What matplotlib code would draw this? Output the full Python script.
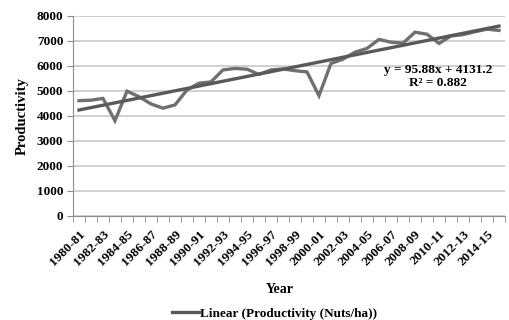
import matplotlib.pyplot as plt
import numpy as np

plt.rcParams['font.family'] = ['Liberation Serif', 'DejaVu Serif']
plt.rcParams['font.weight'] = 'bold'

years = ['%d-%02d' % (y, (y + 1) % 100) for y in range(1980, 2016)]

productivity = [4600, 4620, 4690, 3800, 4980, 4760, 4470, 4300, 4430, 5030,
                5300, 5350, 5830, 5890, 5860, 5650, 5830, 5870, 5800, 5750,
                4800, 6090, 6260, 6540, 6690, 7050, 6940, 6900, 7340, 7260,
                6890, 7190, 7240, 7360, 7460, 7410]

slope = 95.88
intercept = 4131.2
r2 = 0.882

x = np.arange(1, len(years) + 1)
trend = slope * x + intercept

fig = plt.figure(figsize=(5.09, 3.2), dpi=100)
ax = fig.add_axes([0.1434, 0.326, 0.8487, 0.625])

ax.plot(x, productivity, color='#707070', lw=2.4, solid_joinstyle='miter')
tl, = ax.plot(x, trend, color='#595959', lw=2.4)

ax.set_xlim(0.5, len(years) + 0.5)
ax.set_ylim(0, 8000)
ax.set_yticks(range(0, 8001, 1000))
ax.yaxis.grid(True, color='#c8c8c8', lw=1.2)
ax.set_axisbelow(True)

ax.set_xticks(x[::2])
ax.set_xticklabels(years[::2], rotation=45, ha='right', va='top',
                   rotation_mode='anchor', fontsize=9.5)
ax.set_xticks(np.arange(0.5, len(years) + 1, 1), minor=True)
ax.tick_params(axis='x', which='major', length=0, pad=9)
ax.tick_params(axis='x', which='minor', length=4, color='#8c8c8c')
ax.tick_params(axis='y', length=4, color='#8c8c8c', labelsize=9.5, pad=3)

for s in ['top', 'right']:
    ax.spines[s].set_visible(False)
for s in ['left', 'bottom']:
    ax.spines[s].set_color('#8c8c8c')

ax.set_ylabel('Productivity', fontsize=10.5, fontweight='bold', labelpad=6)
fig.text(0.55, 0.094, 'Year', ha='center', va='center', fontsize=10,
         fontweight='bold')

ax.text(0.845, 0.73, 'y = %.2fx + %.1f' % (slope, intercept),
        transform=ax.transAxes, ha='center', va='center', fontsize=9.5)
ax.text(0.845, 0.665, 'R² = %.3f' % r2,
        transform=ax.transAxes, ha='center', va='center', fontsize=9.5)

fig.legend([tl], ['Linear (Productivity (Nuts/ha))'], loc='center',
           bbox_to_anchor=(0.54, 0.02), frameon=False, fontsize=9.5,
           handlelength=2, handletextpad=0.1)

fig.savefig('out.png', dpi=100)
